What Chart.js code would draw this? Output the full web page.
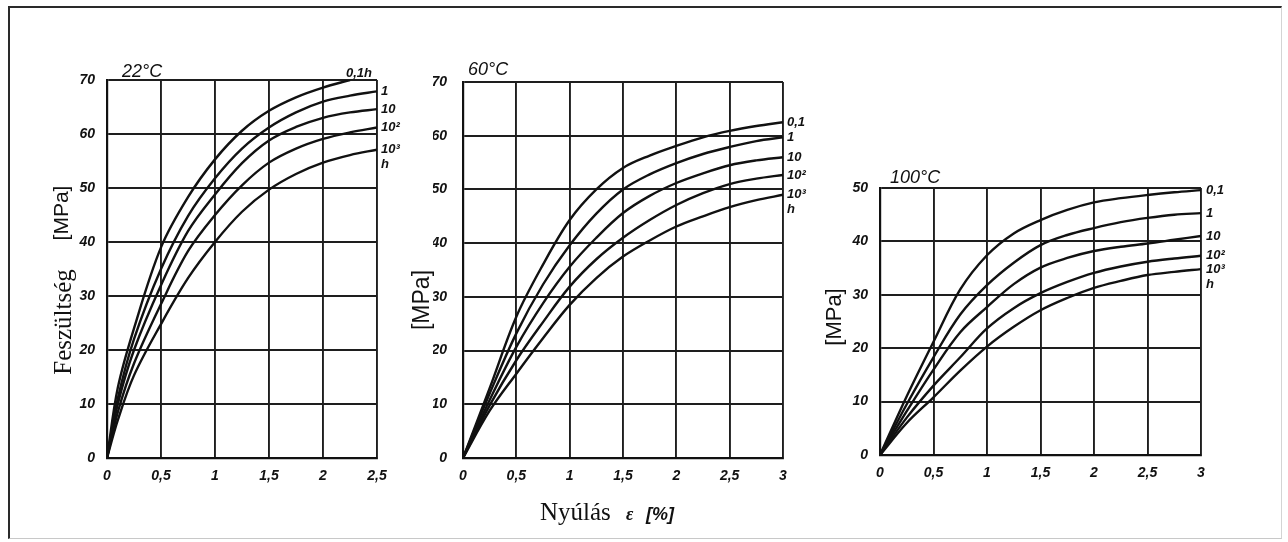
<!DOCTYPE html>
<html>
<head>
<meta charset="utf-8">
<script src="https://cdn.jsdelivr.net/npm/chart.js@4.4.1/dist/chart.umd.min.js"></script>
<style>
  html, body { margin: 0; padding: 0; background: #fff; }
  body { width: 1288px; height: 542px; position: relative; overflow: hidden; }
  .frame {
    position: absolute; left: 8px; top: 6px; width: 1271px; height: 530px;
    border-top: 2px solid #2a2a2a; border-left: 2px solid #2a2a2a;
    border-right: 1px solid #d4d4d4; border-bottom: 1px solid #c8c8c8;
  }
  .panel { position: absolute; }
</style>
</head>
<body>
<div class="frame"></div>
<div class="panel" style="left:20px;top:50px;width:390px;height:440px"><canvas id="c22"></canvas></div>
<div class="panel" style="left:400px;top:50px;width:440px;height:485px"><canvas id="c60"></canvas></div>
<div class="panel" style="left:820px;top:150px;width:440px;height:360px"><canvas id="c100"></canvas></div>
<script>
// --- data: strain (%) vs stress (MPa), one curve per load time
const strain22 = [0, 0.1, 0.25, 0.5, 0.75, 1, 1.25, 1.5, 1.75, 2, 2.25, 2.5];
const stress22_h01 = [0, 13, 24, 39, 48.3, 55.3, 60.6, 64.3, 66.8, 68.6, 70];
const stress22_h1 = [0, 11, 22, 35, 44.8, 51.8, 57.3, 61.2, 64, 66, 67.1, 67.9];
const stress22_h10 = [0, 10, 20, 32, 42, 48.8, 54.6, 58.8, 61.3, 63, 64, 64.6];
const stress22_h100 = [0, 8.5, 17.5, 28.5, 38.3, 45, 50.5, 54.7, 57.3, 59.1, 60.3, 61.2];
const stress22_h1000 = [0, 7, 15.3, 24.8, 33.3, 40, 45.6, 49.7, 52.6, 54.7, 56.1, 57.1];

const strain60 = [0, 0.25, 0.5, 0.75, 1, 1.25, 1.5, 1.75, 2, 2.25, 2.5, 2.75, 3];
const stress60_h01 = [0, 13, 26.3, 36, 44.3, 50, 54, 56.3, 58.1, 59.7, 60.9, 61.8, 62.5];
const stress60_h1 = [0, 12, 23.2, 32.3, 39.6, 45.5, 50, 52.8, 54.9, 56.6, 57.9, 59, 59.7];
const stress60_h10 = [0, 10.8, 20.7, 28.8, 35.6, 41, 45.6, 48.8, 51.2, 53, 54.5, 55.4, 56];
const stress60_h100 = [0, 9.8, 18.2, 25.3, 31.9, 37, 41, 44.3, 47.1, 49.3, 51, 52, 52.7];
const stress60_h1000 = [0, 8.8, 15.7, 22.3, 28.5, 33.5, 37.5, 40.5, 43.1, 45, 46.7, 48, 49];

const strain100 = [0, 0.25, 0.5, 0.75, 1, 1.25, 1.5, 1.75, 2, 2.25, 2.5, 2.75, 3];
const stress100_h01 = [0, 11, 21.2, 31, 37.4, 41.5, 44, 45.9, 47.3, 48.1, 48.7, 49.2, 49.6];
const stress100_h1 = [0, 9.5, 18.3, 26.3, 31.8, 36, 39.3, 41.2, 42.5, 43.6, 44.4, 45, 45.3];
const stress100_h10 = [0, 8.2, 16, 23, 27.7, 32, 35.1, 36.9, 38.2, 39, 39.6, 40.3, 41];
const stress100_h100 = [0, 7, 13, 18.3, 23.7, 27.5, 30.3, 32.4, 34.1, 35.3, 36.2, 36.8, 37.3];
const stress100_h1000 = [0, 6, 10.8, 15.8, 20.3, 24, 27.1, 29.4, 31.3, 32.6, 33.7, 34.3, 34.8];

const curveLabels22 = ['0,1h', '1', '10', '10²', '10³'];
const curveLabels = ['0,1', '1', '10', '10²', '10³'];
const stressTicks = 10;
const strainTicks = 0.5;

const INK = '#111';
const tickFont = { family: "'Liberation Sans', Arial, sans-serif", size: 14, style: 'italic', weight: 'bold' };

function series(xs, ys) {
    return ys.map((y, i) => ({ x: xs[i], y: y }));
}

function makeDatasets(xs, list) {
    return list.map(ys => ({
        data: series(xs, ys),
        borderColor: INK,
        borderWidth: 2.4,
        pointRadius: 0,
        fill: false,
        tension: 0.35
    }));
}

const comma = v => String(v).replace('.', ',');

// draws panel title, axis titles and the curve names at the curve ends
const decor = {
    id: 'decor',
    afterDraw(chart, args, o) {
        const ctx = chart.ctx;
        const a = chart.chartArea;
        ctx.save();
        ctx.fillStyle = INK;

        ctx.font = "italic 18px 'Liberation Sans', Arial, sans-serif";
        ctx.textAlign = 'left';
        ctx.textBaseline = 'alphabetic';
        ctx.fillText(o.title, a.left + o.titleDx, a.top + o.titleDy);

        (o.yTitles || []).forEach(t => {
            ctx.save();
            ctx.translate(a.left + t.dx, a.top + t.dy);
            ctx.rotate(-Math.PI / 2);
            ctx.font = t.font;
            ctx.textAlign = 'center';
            ctx.textBaseline = 'middle';
            ctx.fillText(t.text, 0, 0);
            ctx.restore();
        });

        (o.xTitles || []).forEach(t => {
            ctx.font = t.font;
            ctx.textAlign = 'left';
            ctx.textBaseline = 'alphabetic';
            ctx.fillText(t.text, a.left + t.dx, a.bottom + t.dy);
        });

        ctx.font = "italic bold 13px 'Liberation Sans', Arial, sans-serif";
        ctx.textBaseline = 'middle';
        chart.data.datasets.forEach((ds, i) => {
            const pts = chart.getDatasetMeta(i).data;
            const last = pts[pts.length - 1];
            const off = (o.labelOffsets && o.labelOffsets[i]) || [o.labelDx, 0];
            ctx.fillText(o.labels[i], last.x + off[0], last.y + off[1]);
            if (i === chart.data.datasets.length - 1) {
                ctx.fillText('h', last.x + off[0], last.y + off[1] + 15);
            }
        });
        ctx.restore();
    }
};

function makeChart(id, xs, list, xMax, yMax, pad, yTickPad, deco) {
    return new Chart(document.getElementById(id), {
        type: 'line',
        data: { datasets: makeDatasets(xs, list) },
        plugins: [decor],
        options: {
            responsive: true,
            maintainAspectRatio: false,
            animation: false,
            layout: { padding: { left: pad.left, top: pad.top, right: pad.right, bottom: 2 } },
            plugins: { legend: { display: false }, tooltip: { enabled: false }, decor: deco },
            scales: {
                x: {
                    type: 'linear', min: 0, max: xMax,
                    afterFit: s => { s.height = pad.xh; },
                    grid: { color: '#1e1e1e', lineWidth: 1.9, drawTicks: false },
                    border: { color: INK, width: 2.2 },
                    ticks: { stepSize: strainTicks, padding: 10, color: INK, font: tickFont, callback: comma }
                },
                y: {
                    min: 0, max: yMax,
                    afterFit: s => { s.width = pad.yw; },
                    grid: { color: '#1e1e1e', lineWidth: 1.9, drawTicks: false },
                    border: { color: INK, width: 2.2 },
                    ticks: { stepSize: stressTicks, padding: yTickPad, color: INK, font: tickFont }
                }
            }
        }
    });
}

const serif25 = "25px 'Liberation Serif', 'Times New Roman', serif";

makeChart('c22', strain22,
    [stress22_h01, stress22_h1, stress22_h10, stress22_h100, stress22_h1000],
    2.5, 70,
    { left: 57, top: 30, right: 33, yw: 30, xh: 30 }, 12,
    {
        title: '22°C', titleDx: 15, titleDy: -3,
        labels: curveLabels22, labelDx: 4,
        labelOffsets: [[-4, -7]],
        yTitles: [
            { text: '[MPa]', dx: -45, dy: 133, font: "21px 'Liberation Sans', Arial, sans-serif" },
            { text: 'Feszültség', dx: -43, dy: 242, font: serif25 }
        ]
    });

makeChart('c60', strain60,
    [stress60_h01, stress60_h1, stress60_h10, stress60_h100, stress60_h1000],
    3, 70,
    { left: 33, top: 32, right: 57, yw: 30, xh: 75 }, 16,
    {
        title: '60°C', titleDx: 5, titleDy: -7,
        labels: curveLabels, labelDx: 4,
        yTitles: [
            { text: '[MPa]', dx: -40, dy: 218, font: "23px 'Liberation Sans', Arial, sans-serif" }
        ],
        xTitles: [
            { text: 'Nyúlás', dx: 77, dy: 62, font: serif25 },
            { text: 'ε', dx: 163, dy: 62, font: "italic bold 18px 'Liberation Serif', serif" },
            { text: '[%]', dx: 183, dy: 62, font: "italic bold 18px 'Liberation Sans', Arial, sans-serif" }
        ]
    });

makeChart('c100', strain100,
    [stress100_h01, stress100_h1, stress100_h10, stress100_h100, stress100_h1000],
    3, 50,
    { left: 30, top: 38, right: 59, yw: 30, xh: 53 }, 12,
    {
        title: '100°C', titleDx: 10, titleDy: -5,
        labels: curveLabels, labelDx: 5,
        yTitles: [
            { text: '[MPa]', dx: -45, dy: 129, font: "22px 'Liberation Sans', Arial, sans-serif" }
        ]
    });
</script>
</body>
</html>
